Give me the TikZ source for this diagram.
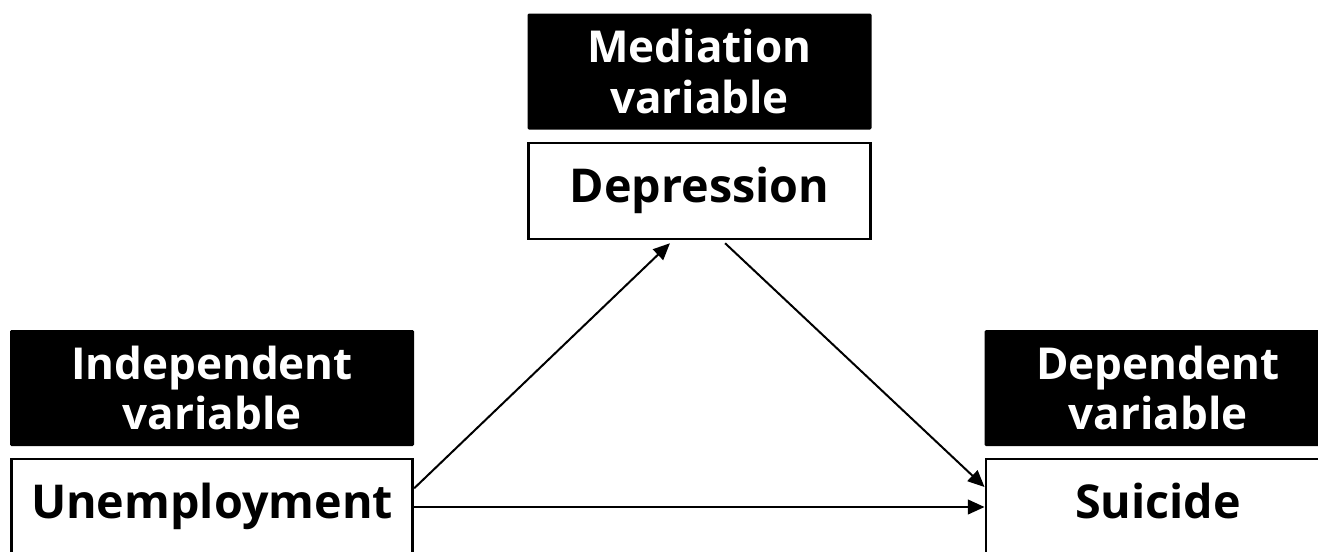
\documentclass[tikz,border=0pt]{standalone}
\usepackage{fontspec}
\setmainfont{Open Sans}
\usetikzlibrary{arrows.meta}

\tikzset{
	head/.style={fill=black, rounded corners=1pt, text=white, align=center,
		font=\fontsize{33}{38}\selectfont\bfseries, inner sep=0pt},
	var/.style={draw=black, line width=2.2pt, fill=white, inner sep=0pt,
		minimum height=72pt, text height=25pt, text depth=8pt,
		font=\fontsize{35}{40}\selectfont\bfseries},
	link/.style={line width=1.5pt, -{Triangle[length=12.5pt,width=11pt]}}
}

\begin{document}
\begin{tikzpicture}[x=0.75pt, y=-0.75pt]
	\useasboundingbox (0,0) rectangle (1318,551);

	% mediator
	\node[head, minimum width=258pt, minimum height=87pt] (medhead) at (699.5,71.5) {Mediation\\variable};
	\node[var, minimum width=257pt] (depr) at (699.5,191) {Depression};

	% independent
	\node[head, minimum width=303pt, minimum height=87pt] (indhead) at (212,388) {Independent\\variable};
	\node[var, minimum width=301pt] (unemp) at (212,507) {Unemployment};

	% dependent
	\node[head, minimum width=260pt, minimum height=87pt] (dephead) at (1158,388) {Dependent\\variable};
	\node[var, minimum width=258pt] (suic) at (1158,507) {Suicide};

	\draw[link, shorten >=3pt] ([yshift=14pt]unemp.east) -- ([xshift=-20pt]depr.south);
	\draw[link, shorten <=3pt] ([xshift=17pt]depr.south) -- ([yshift=15pt]suic.west);
	\draw[link] (unemp.east) -- (suic.west);
\end{tikzpicture}
\end{document}
